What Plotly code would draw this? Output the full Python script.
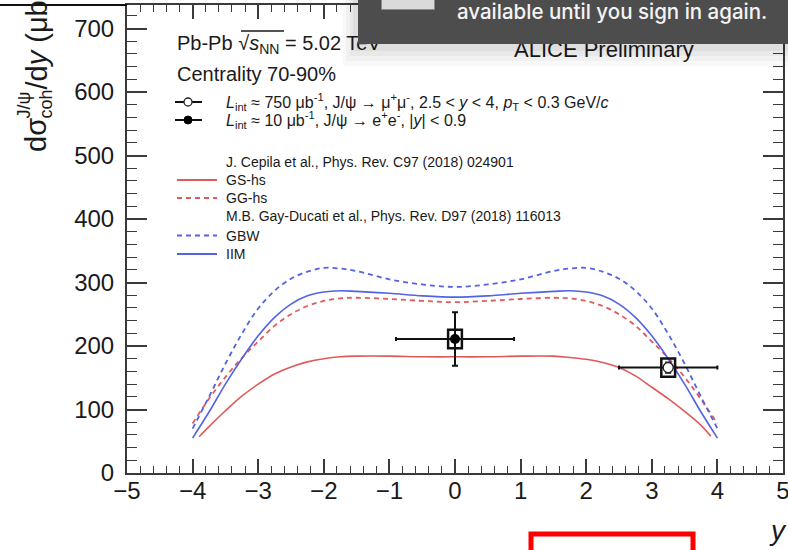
import plotly.graph_objects as go

# ---- model curves: coherent J/psi cross section vs rapidity ----
y_gs = [-3.9, -3.75, -3.5, -3.25, -3.0, -2.75, -2.5, -2.25, -2.0, -1.75, -1.5, -1.0, -0.5, 0.0,
        0.5, 1.0, 1.5, 1.75, 2.0, 2.25, 2.5, 2.75, 3.0, 3.25, 3.5, 3.75, 3.9]
gs_hs = [57, 73, 98, 121, 140, 156, 167, 175, 180, 183, 184, 184, 183, 183,
         183, 184, 184, 182, 179, 174, 166, 153, 135, 117, 97, 75, 58]

y_model = [-4.0, -3.75, -3.5, -3.25, -3.0, -2.75, -2.5, -2.25, -2.0, -1.75, -1.5, -1.0, -0.5, 0.0,
           0.5, 1.0, 1.5, 1.75, 2.0, 2.25, 2.5, 2.75, 3.0, 3.25, 3.5, 3.75, 4.0]
gg_hs = [78, 117, 151, 181, 207, 232, 250, 263, 271, 275, 276, 274, 271, 269,
         271, 274, 276, 275, 271, 263, 250, 232, 207, 181, 151, 116, 78]
gbw = [70, 120, 172, 219, 259, 287, 306, 317, 323, 322, 318, 305, 297, 293,
       297, 305, 318, 322, 323, 317, 306, 287, 259, 219, 172, 120, 70]
iim = [55, 96, 140, 180, 216, 245, 266, 279, 285, 287, 286, 283, 279, 277,
       279, 283, 286, 287, 285, 279, 266, 245, 216, 180, 140, 96, 55]

# ---- measurements ----
# dielectron, mid-rapidity (filled)
ee_y = [0.0]
ee_val = [211]
ee_dy = [0.9]
ee_stat = [42]
ee_sys = [14.5]
# dimuon, forward rapidity (open)
mm_y = [3.25]
mm_val = [166]
mm_dy = [0.75]
mm_stat = [8]
mm_sys = [14.5]
box_halfwidth = 0.105

RED = "#e05a5a"
BLUE = "#5363e3"
AX = "#3a3a3a"
FONT = "Liberation Sans"
INK = "#1a1a1a"

W, H = 788, 550
L, R, T, B = 127, 5, 5, 77


def px(xp):
    return (xp - L) / (W - L - R)


def py(yp):
    return (H - B - yp) / (H - T - B)


fig = go.Figure()

fig.add_trace(go.Scatter(x=y_gs, y=gs_hs, mode="lines", line=dict(color=RED, width=1.6, shape="spline")))
fig.add_trace(go.Scatter(x=y_model, y=gg_hs, mode="lines",
                         line=dict(color=RED, width=1.8, dash="5px,4px", shape="spline")))
fig.add_trace(go.Scatter(x=y_model, y=gbw, mode="lines",
                         line=dict(color=BLUE, width=1.8, dash="5px,4px", shape="spline")))
fig.add_trace(go.Scatter(x=y_model, y=iim, mode="lines", line=dict(color=BLUE, width=1.6, shape="spline")))

# systematic boxes
for xs, vs, ss in ((ee_y, ee_val, ee_sys), (mm_y, mm_val, mm_sys)):
    for xv, v, s in zip(xs, vs, ss):
        fig.add_shape(type="rect", xref="x", yref="y", x0=xv - box_halfwidth, x1=xv + box_halfwidth,
                      y0=v - s, y1=v + s, line=dict(color="#111", width=2.5), layer="above")

fig.add_trace(go.Scatter(
    x=ee_y, y=ee_val, mode="markers",
    marker=dict(symbol="circle", size=10, color="#000"),
    error_x=dict(type="data", array=ee_dy, color="#111", thickness=2, width=2),
    error_y=dict(type="data", array=ee_stat, color="#111", thickness=2, width=3),
))
fig.add_trace(go.Scatter(
    x=mm_y, y=mm_val, mode="markers",
    marker=dict(symbol="circle", size=10, color="white", line=dict(color="#222", width=1.3)),
    error_x=dict(type="data", array=mm_dy, color="#111", thickness=2, width=2),
    error_y=dict(type="data", array=mm_stat, color="#111", thickness=2, width=3),
))

ann = []


def text(x, y, s, size, anchor="left", **kw):
    ann.append(dict(x=px(x), y=py(y), xref="paper", yref="paper", text=s, showarrow=False,
                    xanchor=anchor, yanchor="middle", font=dict(family=FONT, size=size, color=INK), **kw))


# header and legend texts
text(175, 44, "Pb-Pb √<i>s</i><sub>NN</sub> = 5.02 TeV", 20)
text(512, 49, "ALICE Preliminary", 22)
text(175, 74, "Centrality 70-90%", 20)
text(224, 102, "<i>L</i><sub>int</sub> ≈ 750 μb<sup>-1</sup>, J/ψ → μ<sup>+</sup>μ<sup>-</sup>, 2.5 &lt; <i>y</i> &lt; 4, "
               "<i>p</i><sub>T</sub> &lt; 0.3 GeV/<i>c</i>", 16)
text(224, 120, "<i>L</i><sub>int</sub> ≈ 10 μb<sup>-1</sup>, J/ψ → e<sup>+</sup>e<sup>-</sup>, |<i>y</i>| &lt; 0.9", 16)
text(224, 162, "J. Cepila et al., Phys. Rev. C97 (2018) 024901", 14)
text(224, 180, "GS-hs", 14)
text(224, 198, "GG-hs", 14)
text(224, 216.5, "M.B. Gay-Ducati et al., Phys. Rev. D97 (2018) 116013", 14)
text(224, 235.5, "GBW", 14)
text(224, 254, "IIM", 14)

# axis titles
ann.append(dict(x=px(778), y=py(530), xref="paper", yref="paper", text="<i>y</i>", showarrow=False,
                xanchor="center", yanchor="middle", font=dict(family=FONT, size=28, color=INK)))


def vtitle(x, y_bottom, s, size):
    ann.append(dict(x=px(x), y=py(y_bottom), xref="paper", yref="paper", text=s, showarrow=False,
                    textangle=-90, xanchor="center", yanchor="bottom", borderpad=0,
                    font=dict(family=FONT, size=size, color=INK)))


# y title: dσ with stacked J/ψ superscript and coh subscript, then /dy (μb)
vtitle(36, 153, "dσ", 29)
vtitle(23, 120, "J/ψ", 18)
vtitle(45, 120, "coh", 18)
vtitle(36, 90, "/d<i>y</i> (μb)", 29)

# notification banner with its soft shadow
for i, a in enumerate([0.025, 0.03, 0.035, 0.04]):
    g = 22 - 5 * i
    ann.append(dict(x=px(358 - g * 0.7), y=py(-10), xref="paper", yref="paper", text=" ", showarrow=False,
                    xanchor="left", yanchor="top", width=470, height=54 + g, bgcolor=f"rgba(0,0,0,{a})",
                    borderpad=0, borderwidth=0))
ann.append(dict(x=px(358), y=py(-10), xref="paper", yref="paper", text=" ", showarrow=False,
                xanchor="left", yanchor="top", width=450, height=54, bgcolor="#4d4d4d",
                borderpad=0, borderwidth=0))
ann.append(dict(x=px(381), y=py(-10), xref="paper", yref="paper", text=" ", showarrow=False,
                xanchor="left", yanchor="top", width=52, height=18, bgcolor="#dadada",
                bordercolor="#8a8a8a", borderwidth=1, borderpad=0))
ann.append(dict(x=px(455), y=py(12), xref="paper", yref="paper", text="available until you sign in again.",
                showarrow=False, xanchor="left", yanchor="middle",
                font=dict(family="Inter", size=20.5, color="#f4f4f4", weight=500)))

shapes = []
# legend samples
for yy in (102, 120):
    shapes.append(dict(type="line", xref="paper", yref="paper", x0=px(175), x1=px(202), y0=py(yy), y1=py(yy),
                       line=dict(color="#111", width=2)))
shapes.append(dict(type="circle", xref="paper", yref="paper", x0=px(184), x1=px(192), y0=py(106), y1=py(98),
                   fillcolor="white", line=dict(color="#222", width=1.3)))
shapes.append(dict(type="circle", xref="paper", yref="paper", x0=px(184), x1=px(192), y0=py(124), y1=py(116),
                   fillcolor="#000", line=dict(color="#000", width=1)))
for yy, col, dash in ((180, RED, "solid"), (198, RED, "5px,4px"), (235.5, BLUE, "5px,4px"), (254, BLUE, "solid")):
    shapes.append(dict(type="line", xref="paper", yref="paper", x0=px(177), x1=px(217), y0=py(yy), y1=py(yy),
                       line=dict(color=col, width=1.8, dash=dash)))
# overline of the square root
shapes.append(dict(type="line", xref="paper", yref="paper", x0=px(241), x1=px(284), y0=py(31), y1=py(31),
                   line=dict(color=INK, width=1.3)))
# top border continuing left of the frame
shapes.append(dict(type="line", xref="paper", yref="paper", x0=px(0), x1=px(L), y0=py(5), y1=py(5),
                   line=dict(color="#111", width=2)))
# red highlight frame at the bottom
shapes.append(dict(type="rect", xref="paper", yref="paper", x0=px(531), x1=px(693), y0=py(534), y1=py(575),
                   line=dict(color="#ff0000", width=5)))

fig.update_layout(shapes=list(fig.layout.shapes) + shapes, annotations=ann)

axis_common = dict(
    showgrid=False, zeroline=False, showline=True, linecolor=AX, linewidth=2, mirror="ticks",
    ticks="inside", tickcolor=AX, tickwidth=1.6, automargin=False,
    tickfont=dict(family=FONT, size=24, color=INK),
)
fig.update_xaxes(range=[-5, 5], dtick=1, tick0=0, ticklen=14,
                 minor=dict(dtick=0.2, ticks="inside", ticklen=7, tickcolor=AX, tickwidth=1.4),
                 ticklabelstandoff=-5, ticklabeloverflow="allow", **axis_common)
fig.update_yaxes(range=[0, 737], dtick=100, tick0=0, ticklen=20,
                 minor=dict(dtick=20, ticks="inside", ticklen=10, tickcolor=AX, tickwidth=1.4),
                 ticklabelstandoff=6, ticklabeloverflow="allow", **axis_common)

fig.update_layout(
    width=W, height=H, margin=dict(l=L, r=R, t=T, b=B, autoexpand=False),
    paper_bgcolor="white", plot_bgcolor="white", showlegend=False,
)

fig.write_html("out.html")
